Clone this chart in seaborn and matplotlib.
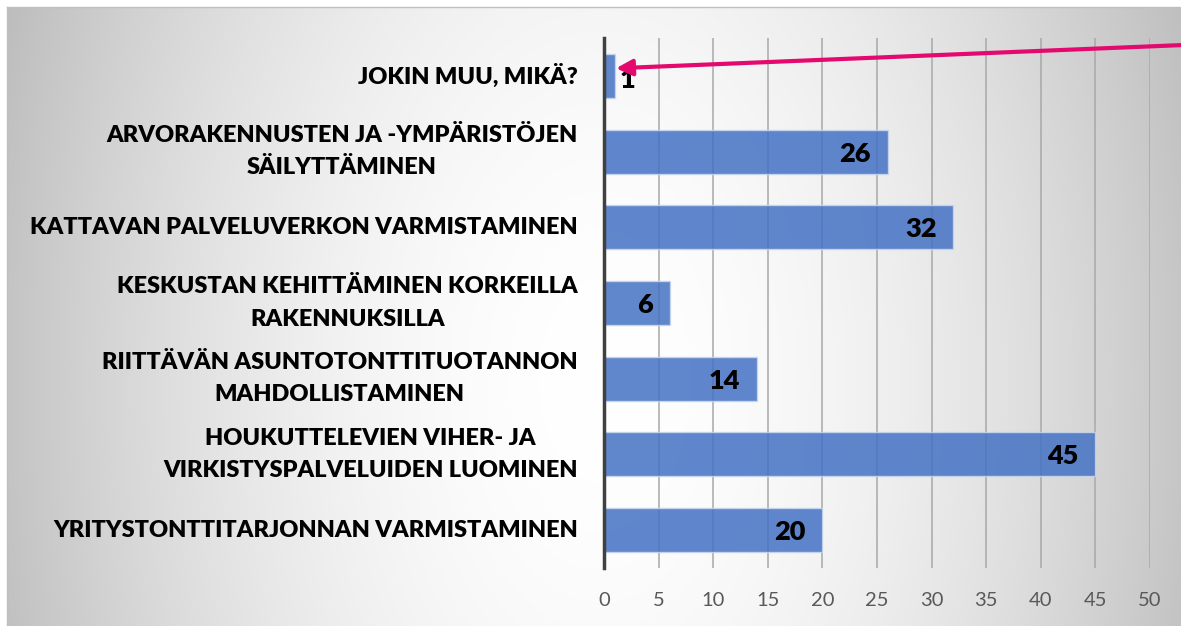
import numpy as np
import pandas as pd
import matplotlib
matplotlib.use("Agg")
import matplotlib.pyplot as plt
import seaborn as sns
from matplotlib.transforms import offset_copy

categories = [
    "JOKIN MUU, MIKÄ?",
    "ARVORAKENNUSTEN JA -YMPÄRISTÖJEN\nSÄILYTTÄMINEN",
    "KATTAVAN PALVELUVERKON VARMISTAMINEN",
    "KESKUSTAN KEHITTÄMINEN KORKEILLA\nRAKENNUKSILLA",
    "RIITTÄVÄN ASUNTOTONTTITUOTANNON\nMAHDOLLISTAMINEN",
    "HOUKUTTELEVIEN VIHER- JA\nVIRKISTYSPALVELUIDEN LUOMINEN",
    "YRITYSTONTTITARJONNAN VARMISTAMINEN",
]
values = [1, 26, 32, 6, 14, 45, 20]
x_ticks = [0, 5, 10, 15, 20, 25, 30, 35, 40, 45, 50]

sns.set_theme(style="white")
plt.rcParams["font.family"] = ["Lato", "DejaVu Sans"]

W, H = 1181, 626
fig = plt.figure(figsize=(W / 100, H / 100), dpi=100)
fig.patch.set_facecolor("white")

# background radial gradient
bg = fig.add_axes([7 / W, 0, 1 - 7 / W, 1 - 7 / H], zorder=0)
yy, xx = np.mgrid[7:H, 7:W]
t = np.sqrt(((xx - 600) / 600.0) ** 2 + ((yy - 380) / 1000.0) ** 2)
t = np.clip(t, 0, 1.1)
val = (255 - 60 * t ** 1.8) / 255.0
img = np.dstack([val, val, val])
bg.imshow(img, aspect="auto", extent=[0, 1, 0, 1], origin="upper")
bg.set_xticks([])
bg.set_yticks([])
for s in bg.spines.values():
    s.set_color("#bfbfbf")
    s.set_linewidth(1)
bg.spines["right"].set_visible(False)
bg.spines["bottom"].set_visible(False)

ax = fig.add_axes([604 / W, 1 - 568 / H, (1150 - 604) / W, (568 - 38) / H], zorder=1)
ax.patch.set_alpha(0)

df = pd.DataFrame({"cat": categories, "val": values})
sns.barplot(data=df, x="val", y="cat", orient="h", color="#4472C4", alpha=0.85,
            width=0.58, edgecolor="#c9d6ee", linewidth=1, saturation=1, ax=ax, zorder=3)

ax.set_xlim(0, 50)
ax.set_ylim(6.5, -0.5)
ax.set_xticks(x_ticks)
ax.set_xticklabels([str(v) for v in x_ticks])
ax.set_xlabel("")
ax.set_ylabel("")
ax.xaxis.grid(True, color="#a8a8a8", linewidth=1.1, zorder=0)
ax.yaxis.grid(False)
ax.set_axisbelow(True)
for s in ["top", "right", "bottom"]:
    ax.spines[s].set_visible(False)
ax.spines["left"].set_color("#404040")
ax.spines["left"].set_linewidth(2.5)
ax.spines["left"].set_zorder(5)
ax.tick_params(axis="x", length=0, pad=17, labelsize=14.5, labelcolor="#595959")
ax.tick_params(axis="y", length=0, pad=19, labelsize=16.9, labelcolor="black")
for lab in ax.get_yticklabels():
    lab.set_fontweight("heavy")
    lab.set_multialignment("center")
    lab.set_linespacing(1.65)
    lab.set_verticalalignment("center")

for i, v in enumerate(values):
    if v < 3:
        tr = offset_copy(ax.transData, fig=fig, x=5, y=-4, units="dots")
        ax.text(v, i, str(v), ha="left", va="center", fontsize=19.5, fontweight="heavy",
                color="black", transform=tr, zorder=6)
    else:
        tr = offset_copy(ax.transData, fig=fig, x=-17, y=-2, units="dots")
        ax.text(v, i, str(v), ha="right", va="center", fontsize=19.5, fontweight="heavy",
                color="black", transform=tr, zorder=6)

ax.annotate("", xy=(1.1, -0.1), xytext=(53.5, -0.41), xycoords="data",
            textcoords="data", annotation_clip=False,
            arrowprops=dict(arrowstyle="-|>,head_length=0.8,head_width=0.4",
                            color="#E3096F", lw=3.0, shrinkA=0, shrinkB=0),
            zorder=7)

fig.savefig("out.png", dpi=100)
